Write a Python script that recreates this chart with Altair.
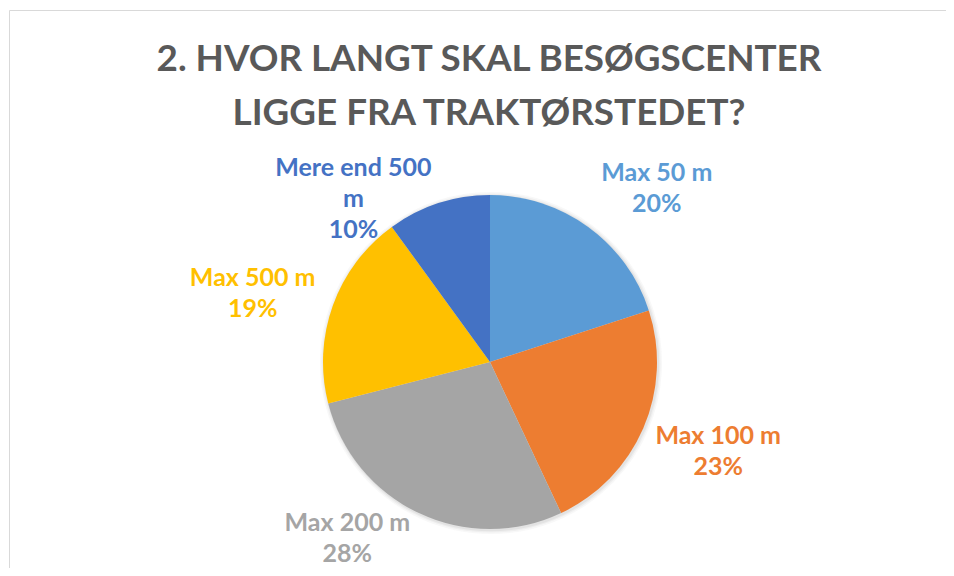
import textwrap
import altair as alt
import pandas as pd

# ---- data ----
categories = ["Max 50 m", "Max 100 m", "Max 200 m", "Max 500 m", "Mere end 500 m"]
shares = [20, 23, 28, 19, 10]
colors = ["#5B9BD5", "#ED7D31", "#A5A5A5", "#FFC000", "#4472C4"]
title_lines = ["2. HVOR LANGT SKAL BESØGSCENTER", "LIGGE FRA TRAKTØRSTEDET?"]

df = pd.DataFrame({
    "cat": categories,
    "share": shares,
    "order": list(range(len(categories))),
    "label": ["\n".join(textwrap.wrap(c, 12) + [f"{s}%"]) for c, s in zip(categories, shares)],
})

# ---- layout / style ----
FONT = "Lato"
W, H = 938, 560
CX, CY = 482, 354
R = 167
LABEL_R = 180
# offsets of each label block (lines are centred inside the block)
placement = {
    "Max 50 m": dict(dx=61, dy=-43.5),
    "Max 100 m": dict(dx=63, dy=2.5),
    "Max 200 m": dict(dx=-66, dy=-2),
    "Max 500 m": dict(dx=-68, dy=-23.5),
    "Mere end 500 m": dict(dx=-81, dy=-23),
}

theta_scale = alt.Scale(domain=[0, 100])
color = alt.Color("cat:N", scale=alt.Scale(domain=categories, range=colors), legend=None)

base = alt.Chart(df)

# soft shadow around the pie
shadow_layers = []
for extra, op in [(4, 0.05), (2.5, 0.07), (1.2, 0.1)]:
    shadow_layers.append(
        base.mark_arc(radius=R + extra, color="#7F7F7F", opacity=op).encode(
            theta=alt.Theta("share:Q", stack=True, scale=theta_scale),
            order=alt.Order("order:Q"),
            x=alt.value(CX + 1),
            y=alt.value(CY + 1),
        )
    )

pie = base.mark_arc(radius=R).encode(
    theta=alt.Theta("share:Q", stack=True, scale=theta_scale),
    color=color,
    order=alt.Order("order:Q"),
    x=alt.value(CX),
    y=alt.value(CY),
)

label_layers = []
for cat in categories:
    p = placement[cat]
    label_layers.append(
        base.transform_window(cum="sum(share)", sort=[alt.SortField("order")], frame=[None, 0])
        .transform_calculate(mid="datum.cum - datum.share / 2")
        .transform_filter(alt.datum.cat == cat)
        .mark_text(font=FONT, fontSize=25, fontWeight="bold", lineBreak="\n", lineHeight=31,
                   align="center", baseline="middle", dx=p["dx"], dy=p["dy"])
        .encode(
            theta=alt.Theta("mid:Q", scale=theta_scale, stack=None),
            radius=alt.value(LABEL_R),
            x=alt.value(CX),
            y=alt.value(CY),
            text="label:N",
            color=color,
        )
    )

title = alt.Chart(pd.DataFrame({"t": ["\n".join(title_lines)]})).mark_text(
    font=FONT, fontSize=36.8, fontWeight="bold", color="#595959", lineBreak="\n", lineHeight=54,
    align="center", baseline="alphabetic",
).encode(text="t:N", x=alt.value(481), y=alt.value(63))

frame_df = pd.DataFrame({"a": [0]})
top_rule = alt.Chart(frame_df).mark_rule(color="#D9D9D9", strokeWidth=1).encode(
    x=alt.value(1.5), x2=alt.value(W), y=alt.value(2.5))
left_rule = alt.Chart(frame_df).mark_rule(color="#D9D9D9", strokeWidth=1).encode(
    x=alt.value(1.5), y=alt.value(2.5), y2=alt.value(H))

chart = alt.layer(top_rule, left_rule, *shadow_layers, pie, *label_layers, title).properties(
    width=W, height=H, autosize=alt.AutoSizeParams(type="none"), padding=0,
).configure_view(stroke=None)

chart.save("out.html", embed_options={"renderer": "svg", "actions": False})
